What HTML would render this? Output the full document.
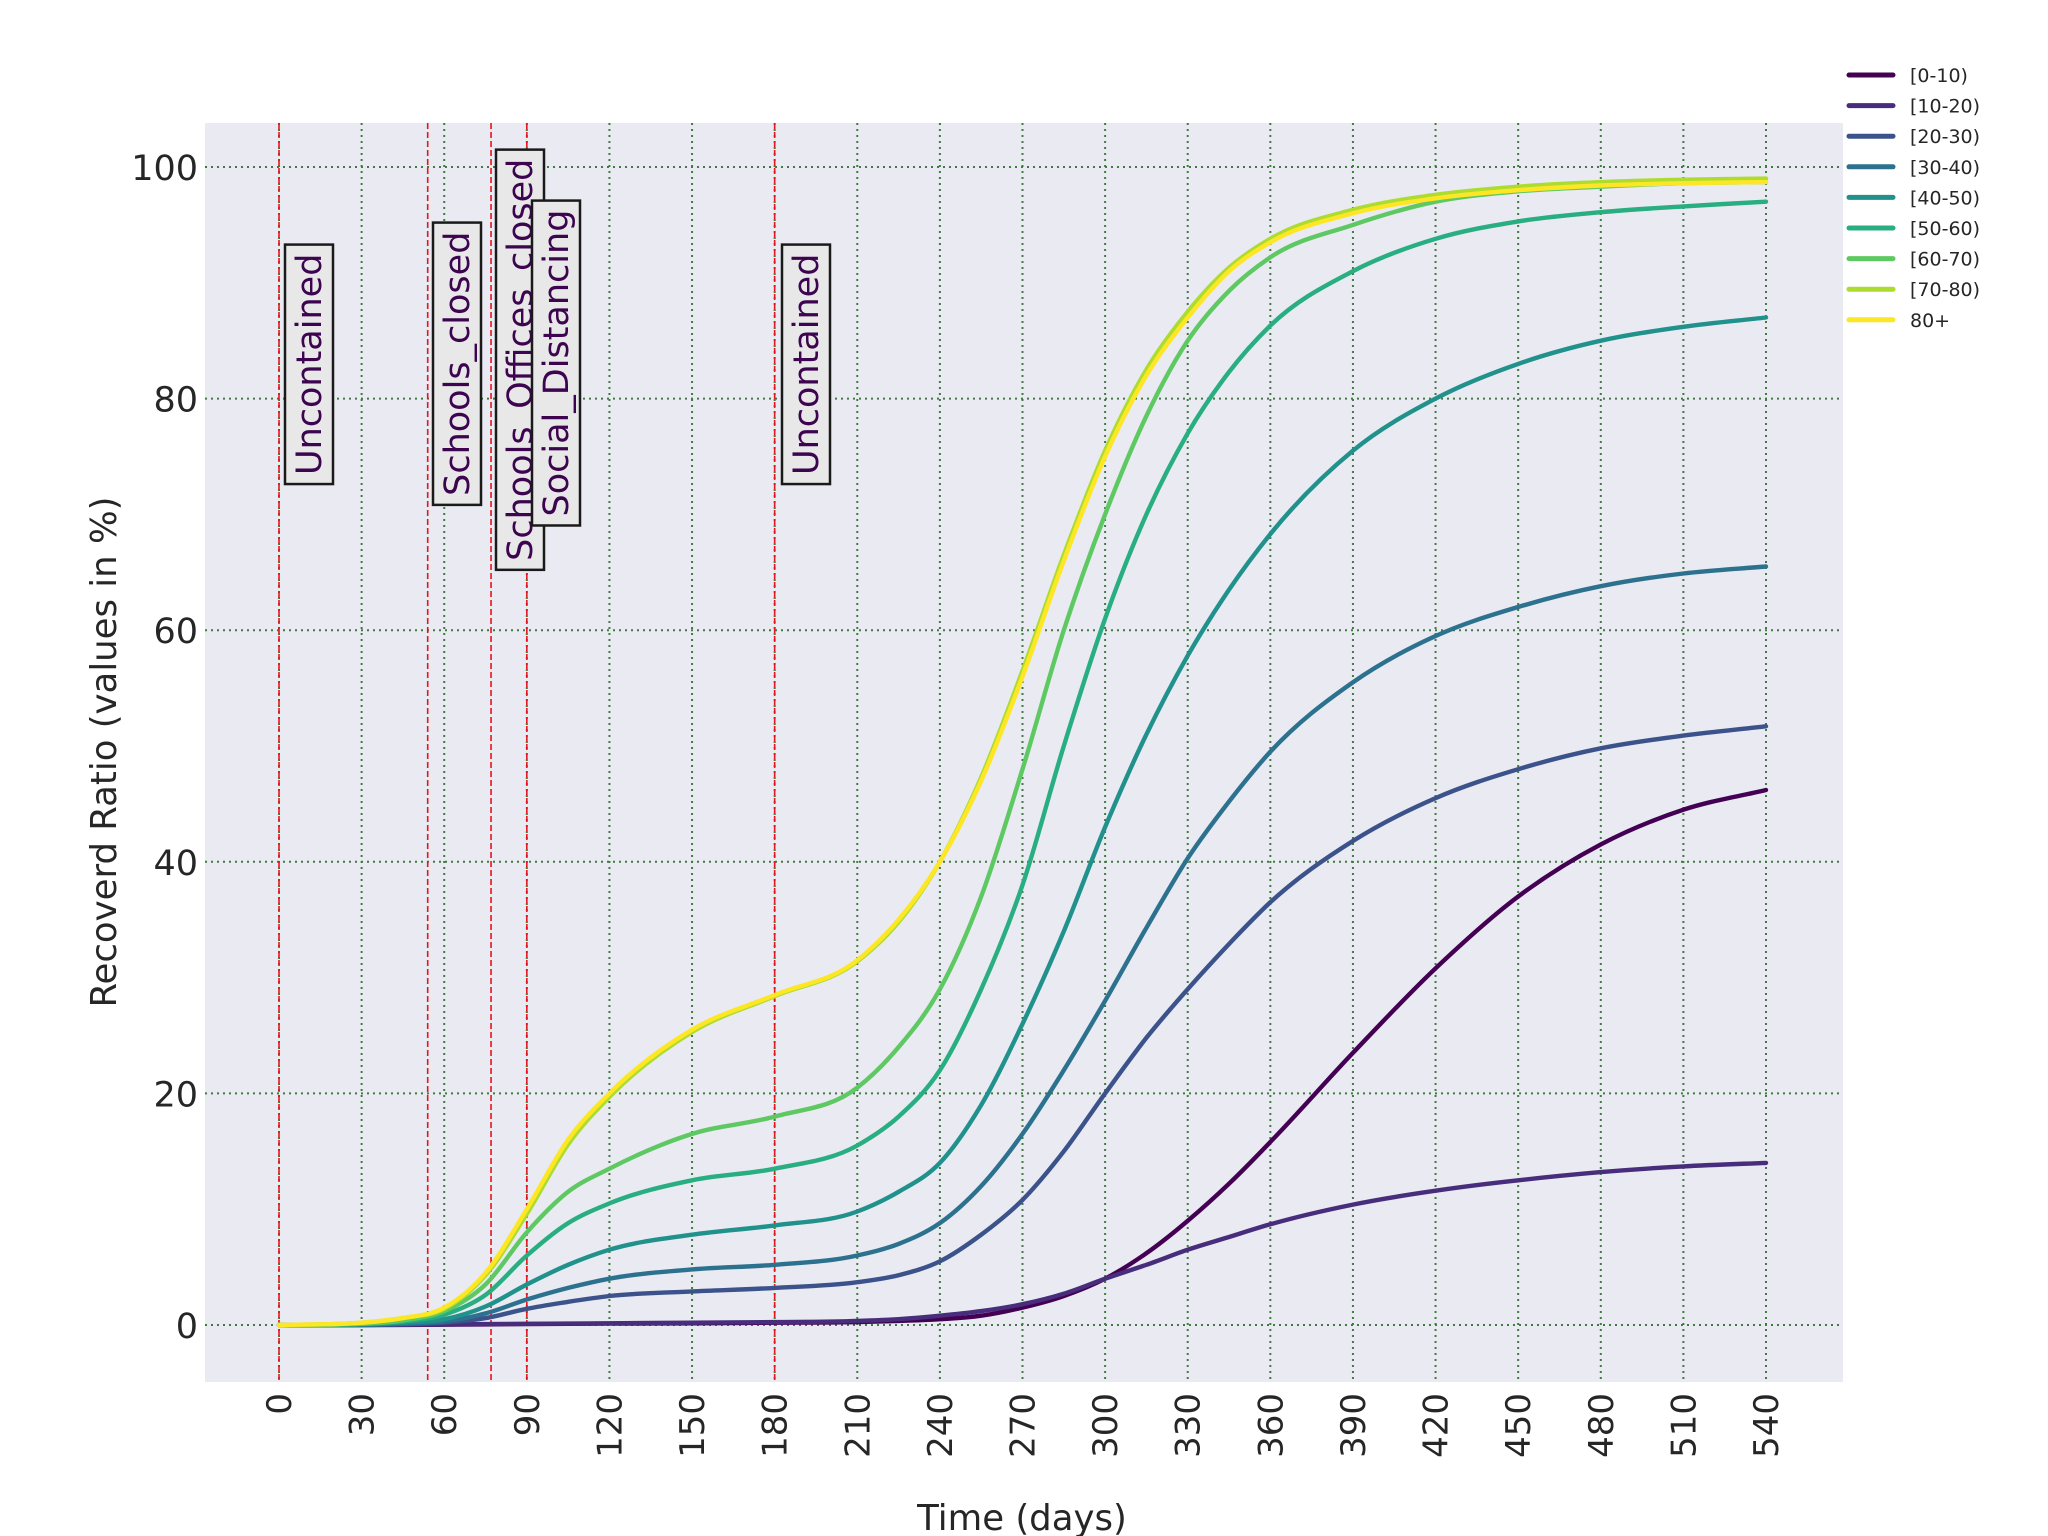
<!DOCTYPE html>
<html><head><meta charset="utf-8"><style>
html,body{margin:0;padding:0;background:#fff;}
svg{display:block;font-family:"DejaVu Sans","Liberation Sans",sans-serif;}
</style></head><body>
<svg id="chart" width="2048" height="1536" viewBox="0 0 2048 1536" xmlns="http://www.w3.org/2000/svg">
<rect x="205" y="123" width="1638" height="1259" fill="#eaeaf2"/>
<g id="grid"></g>
<g id="events"></g>
<g id="series"></g>
<g id="annots"></g>
<g id="xticks"></g>
<g id="yticks"></g>
<text x="1022" y="1530" font-size="35.5" fill="#262626" text-anchor="middle">Time (days)</text>
<text transform="translate(116,752) rotate(-90)" font-size="35.5" fill="#262626" text-anchor="middle">Recoverd Ratio (values in %)</text>
<g id="legend"></g>
</svg>
<script>
const days = [0,30,45,60,75,90,105,120,150,180,210,225,240,255,270,285,300,315,330,345,360,390,420,450,480,510,540];
const seriesNames = ["[0-10)","[10-20)","[20-30)","[30-40)","[40-50)","[50-60)","[60-70)","[70-80)","80+"];
const s0 = [0,0,0.01,0.03,0.05,0.08,0.1,0.12,0.15,0.2,0.25,0.35,0.5,0.8,1.5,2.5,4,6.2,9,12.2,15.8,23.5,30.8,37,41.5,44.5,46.2];
const s1 = [0,0,0.02,0.05,0.08,0.1,0.12,0.15,0.2,0.25,0.35,0.5,0.8,1.2,1.8,2.7,4,5.2,6.5,7.6,8.7,10.4,11.6,12.5,13.2,13.7,14];
const s2 = [0,0.02,0.07,0.2,0.6,1.4,2,2.5,2.9,3.2,3.7,4.3,5.5,7.8,10.8,15,20,24.8,29,32.9,36.5,41.8,45.5,48,49.8,50.9,51.7];
const s3 = [0,0.03,0.1,0.3,1,2.2,3.2,4,4.8,5.2,6,7,8.8,12,16.5,22,28,34.3,40.3,45.2,49.5,55.5,59.5,62,63.8,64.9,65.5];
const s4 = [0,0.05,0.2,0.5,1.6,3.5,5.2,6.5,7.8,8.6,9.8,11.5,14,19,26,34,43,51,57.8,63.5,68.3,75.5,80,83,85,86.2,87];
const s5 = [0,0.1,0.3,0.9,2.6,6,8.8,10.5,12.5,13.5,15.5,18,22,29,38,50,61,70,77,82.3,86.3,91,93.8,95.3,96.1,96.6,97];
const s6 = [0,0.1,0.4,1.2,3.5,8,11.5,13.5,16.5,18,20.5,24,29,37,48,60,70,78.5,85,89.3,92.2,95,97,97.9,98.3,98.6,98.7];
const s7 = [0,0.2,0.6,1.4,4.3,9.6,15.6,19.7,25.3,28.4,31.4,34.8,40,47.3,56.5,66.5,75.5,82.5,87.5,91.3,93.8,96.3,97.6,98.3,98.7,98.9,99];
const s8 = [0,0.2,0.6,1.5,4.5,10,16,20,25.5,28.5,31.5,35,40,47,56,66,75,82,87,91,93.5,96,97.3,98,98.4,98.6,98.7];
const xTicks = [0,30,60,90,120,150,180,210,240,270,300,330,360,390,420,450,480,510,540];
const yTicks = [0,20,40,60,80,100];
const eventDays = [0,54,77,90,180];
const eventLabels = ["Uncontained","Schools_closed","Schools_Offices_closed","Social_Distancing","Uncontained"];
const eventLabelTop = [93.3,95.2,101.5,97.1,93.3];

const colors = ["#440154","#472d7b","#3b528b","#2c728e","#21918c","#28ae80","#5ec962","#addc30","#fde725"];
const allSeries = [s0,s1,s2,s3,s4,s5,s6,s7,s8];
const NS = "http://www.w3.org/2000/svg";
const X = d => 279 + d * (1766 - 279) / 540;
const Y = v => 1325 - v * (1325 - 167) / 100;
function mk(tag, attrs, parent){const e=document.createElementNS(NS,tag);for(const k in attrs)e.setAttribute(k,attrs[k]);parent.appendChild(e);return e;}

const grid = document.getElementById('grid');
xTicks.forEach(t=>{
  const l = mk('line',{x1:X(t),x2:X(t),y1:123,y2:1382,stroke:'#3f7a3f','stroke-width':2,'stroke-dasharray':'2,4'},grid);
  
  
});
yTicks.forEach(t=>{
  const l = mk('line',{x1:205,x2:1843,y1:Y(t),y2:Y(t),stroke:'#3f7a3f','stroke-width':2,'stroke-dasharray':'2,4'},grid);
  
  
});

const ev = document.getElementById('events');
eventDays.forEach(d=>{
  const l = mk('line',{x1:X(d),x2:X(d),y1:123,y2:1382,stroke:'#e8141c','stroke-width':1.6,'stroke-dasharray':'6,3'},ev);
  
  
});

function smoothPath(xs, ys){
  const n=xs.length, m=new Array(n), dl=[];
  for(let i=0;i<n-1;i++) dl.push((ys[i+1]-ys[i])/(xs[i+1]-xs[i]));
  m[0]=dl[0]; m[n-1]=dl[n-2];
  for(let i=1;i<n-1;i++){
    if(dl[i-1]*dl[i]<=0){m[i]=0;continue;}
    const h0=xs[i]-xs[i-1], h1=xs[i+1]-xs[i];
    m[i]=(dl[i-1]*h1+dl[i]*h0)/(h0+h1);
  }
  for(let i=0;i<n-1;i++){ if(dl[i]===0){m[i]=0;m[i+1]=0;continue;}
    const a=m[i]/dl[i], b=m[i+1]/dl[i], h=a*a+b*b; if(h>9){const t=3/Math.sqrt(h);m[i]=t*a*dl[i];m[i+1]=t*b*dl[i];} }
  let p='M'+X(xs[0]).toFixed(1)+','+Y(ys[0]).toFixed(1);
  for(let i=0;i<n-1;i++){const h=xs[i+1]-xs[i];
    p+=' C'+X(xs[i]+h/3).toFixed(1)+','+Y(ys[i]+m[i]*h/3).toFixed(1)+' '+X(xs[i+1]-h/3).toFixed(1)+','+Y(ys[i+1]-m[i+1]*h/3).toFixed(1)+' '+X(xs[i+1]).toFixed(1)+','+Y(ys[i+1]).toFixed(1);}
  return p;
}
const sg = document.getElementById('series');
allSeries.forEach((s,i)=>{
  const p = mk('path',{d:smoothPath(days,s),fill:'none',stroke:colors[i],'stroke-width':4.4,'stroke-linecap':'round'},sg);
  
  
});

const an = document.getElementById('annots');
const boxX = [285,433,496,532,782];
eventLabels.forEach((lab,i)=>{
  const g = mk('g',{},an);
  
  
  const t = mk('text',{'font-size':35,fill:'#3d0550'},g);
  t.textContent = lab;
  const len = t.getComputedTextLength();
  const topY = Y(eventLabelTop[i]);
  const bx = boxX[i], bw = 48, bh = len + 18;
  const r = mk('rect',{x:bx,y:topY,width:bw,height:bh,fill:'#e8e8e8',stroke:'#1a1a1a','stroke-width':2.5},g);
  g.insertBefore(r,t);
  t.setAttribute('transform','translate('+(bx+bw/2+12)+','+(topY+bh-9)+') rotate(-90)');
});

const xt = document.getElementById('xticks');
xTicks.forEach(t=>{
  const e = mk('text',{transform:'translate('+(X(t)+12)+',1393) rotate(-90)','font-size':34,fill:'#262626','text-anchor':'end'},xt);
  e.textContent = t;
  
  
});
const yt = document.getElementById('yticks');
yTicks.forEach(t=>{
  const e = mk('text',{x:198,y:Y(t)+13,'font-size':35,fill:'#262626','text-anchor':'end'},yt);
  e.textContent = t;
  
  
});

const lg = document.getElementById('legend');
seriesNames.forEach((n,i)=>{
  const y = 75 + i*30.6;
  const l = mk('line',{x1:1849,x2:1893,y1:y,y2:y,stroke:colors[i],'stroke-width':5,'stroke-linecap':'round'},lg);
  
  
  const t = mk('text',{x:1910,y:y+7,'font-size':19,fill:'#262626'},lg);
  t.textContent = n;
  
  
});
</script>
</body></html>
